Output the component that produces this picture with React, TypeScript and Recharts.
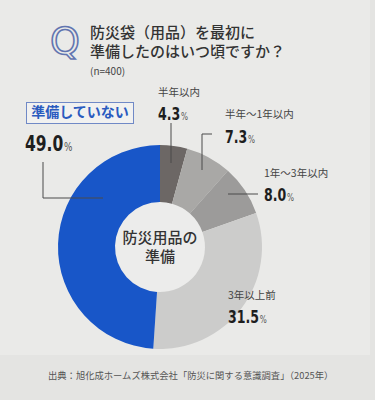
import React from "react";
import { PieChart, Pie, Cell } from "recharts";

const categories = ["半年以内", "半年〜1年以内", "1年〜3年以内", "3年以上前", "準備していない"];
const shares = [4.3, 7.3, 8.0, 31.5, 49.0];
const COLORS = ["#6c6765", "#a9a8a6", "#9c9b9a", "#cccccb", "#1856c8"];

const data = categories.map((name, i) => ({ name, value: shares[i] }));

const JP = "'Noto Sans CJK JP', sans-serif";
const NUM = "'DejaVu Sans', sans-serif";

// label placement relative to the pie centre
const LAYOUT = [
  { nx: -2, ny: -154, vx: -2, vy: -127, line: [[11, -84], [11, -124]] },
  { nx: 65, ny: -132, vx: 65, vy: -104, line: [[42, -77], [42, -113], [52, -113]] },
  { nx: 104, ny: -73, vx: 104, vy: -46, line: [[68, -53], [98, -53]] },
  { nx: 68, ny: 49, vx: 68, vy: 76, line: [] as number[][] },
  { nx: 0, ny: 0, vx: -135, vy: -96, line: [[-117, -85], [-117, -49], [-57, -49]] },
];

const renderLabel = (props: any) => {
  const { cx, cy, index } = props;
  const l = LAYOUT[index];
  const big = index === 4;
  const pts = l.line.map((p) => `${cx + p[0]},${cy + p[1]}`).join(" ");
  return (
    <g key={`lbl-${index}`}>
      {pts && <polyline points={pts} fill="none" stroke="#4a4a4a" strokeWidth={1} />}
      {!big && (
        <text x={cx + l.nx} y={cy + l.ny} fontSize={10.5} fill="#444" fontFamily={JP} dominantBaseline="middle">
          {categories[index]}
        </text>
      )}
      <text
        transform={`translate(${cx + l.vx},${cy + l.vy}) scale(0.74,1)`}
        fill="#1e1e1e"
        fontFamily={NUM}
        fontWeight="bold"
      >
        <tspan fontSize={big ? 21 : 17}>{shares[index].toFixed(1)}</tspan>
        <tspan fontSize={big ? 12 : 10} fill="#555" fontWeight="normal" dx={1}>%</tspan>
      </text>
    </g>
  );
};

export default function App() {
  return (
    <div style={{ position: "absolute", left: 0, top: 0, width: 375, height: 400, background: "#e4e4e2", overflow: "hidden" }}>
      <div style={{ position: "absolute", left: 0, top: 0, width: 370, height: 355, background: "#eaeae8" }} />
      <PieChart width={375} height={400} margin={{ top: 0, right: 0, bottom: 0, left: 0 }} style={{ position: "absolute", left: 0, top: 0 }}>
        {/* title */}
        <text x={65} y={43} textAnchor="middle" fontFamily="'DejaVu Sans', sans-serif" fontSize={38} fill="none" stroke="#6275b0" strokeWidth={1.6} dominantBaseline="middle">
          Q
        </text>
        <text x={90} y={34} fontFamily={JP} fontSize={15} fontWeight={500} fill="#333" dominantBaseline="middle">
          防災袋（用品）を最初に
        </text>
        <text x={90} y={53} fontFamily={JP} fontSize={15} fontWeight={500} fill="#333" dominantBaseline="middle">
          準備したのはいつ頃ですか？
        </text>
        <text x={90} y={72} fontFamily={JP} fontSize={10} fill="#444" dominantBaseline="middle">
          (n=400)
        </text>
        {/* label box for the blue slice */}
        <rect x={26.5} y={102.5} width={107} height={21} fill="#f1f1f0" stroke="#7089c6" strokeWidth={1} />
        <text x={80} y={113.5} textAnchor="middle" fontFamily={JP} fontSize={14} fontWeight="bold" fill="#2a5bbf" dominantBaseline="middle">
          準備していない
        </text>
        <Pie
          data={data}
          dataKey="value"
          cx={160}
          cy={247}
          innerRadius={45}
          outerRadius={102}
          startAngle={90}
          endAngle={-270}
          stroke="none"
          label={renderLabel}
          labelLine={false}
          isAnimationActive={false}
        >
          {data.map((_, i) => (
            <Cell key={i} fill={COLORS[i]} />
          ))}
        </Pie>
        <circle cx={160} cy={247} r={45} fill="#ececeb" />
        <text x={160} y={239} textAnchor="middle" fontFamily={JP} fontSize={15} fontWeight={500} fill="#333" dominantBaseline="middle">
          防災用品の
        </text>
        <text x={160} y={258} textAnchor="middle" fontFamily={JP} fontSize={15} fontWeight={500} fill="#333" dominantBaseline="middle">
          準備
        </text>
        <text x={48} y={376} fontFamily={JP} fontSize={9.3} fill="#555" dominantBaseline="middle">
          出典：旭化成ホームズ株式会社「防災に関する意識調査」（2025年）
        </text>
      </PieChart>
    </div>
  );
}
